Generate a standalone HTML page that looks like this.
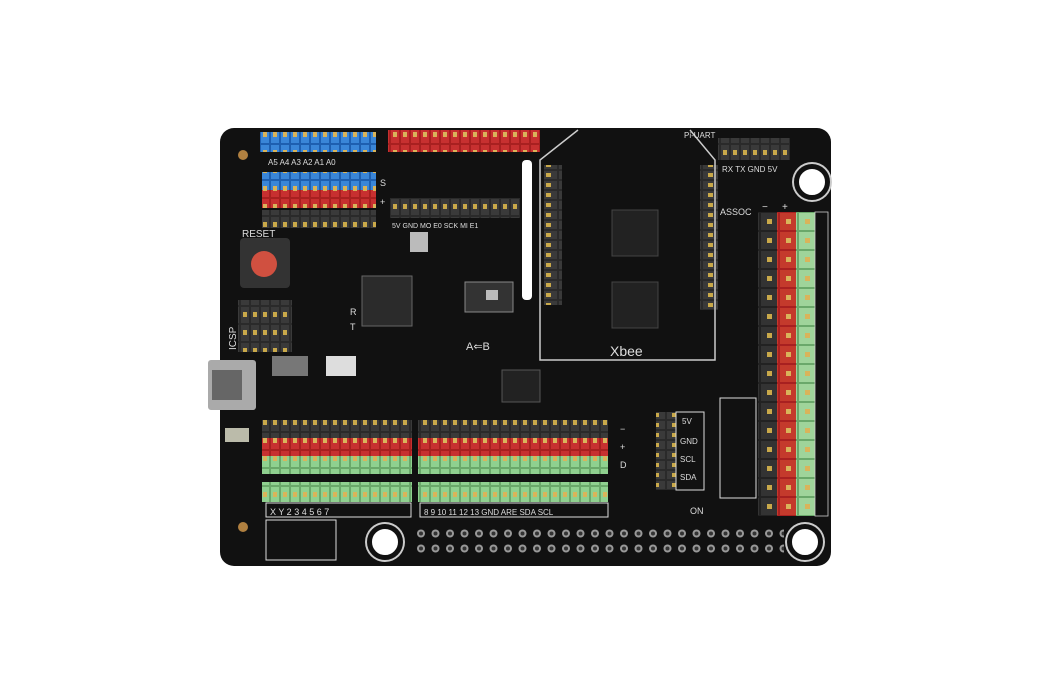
<!DOCTYPE html>
<html><head><style>
body{margin:0;background:#fff;width:1050px;height:700px;overflow:hidden;position:relative;font-family:"Liberation Sans",sans-serif}
.a{position:absolute}
.board{left:220px;top:128px;width:611px;height:438px;background:#111;border-radius:14px}
.hole{position:absolute;width:26px;height:26px;border-radius:50%;background:#fff;border:5px solid #111;box-shadow:0 0 0 2px #ccc}
</style></head><body>
<div class="a board"></div>
<svg class="a" style="left:0;top:0" width="1050" height="700">
<defs>
<pattern id="bk" width="10" height="18" patternUnits="userSpaceOnUse"><rect width="10" height="18" fill="#2a2a2a"/><rect x="1" y="1" width="8" height="16" fill="#3a3a3a"/><rect x="3" y="6" width="4" height="5" fill="#c9a94a"/></pattern>
<pattern id="rd" width="10" height="18" patternUnits="userSpaceOnUse"><rect width="10" height="18" fill="#a82020"/><rect x="1" y="1" width="8" height="16" fill="#c73030"/><rect x="3" y="6" width="4" height="5" fill="#d9b45a"/></pattern>
<pattern id="gr" width="10" height="18" patternUnits="userSpaceOnUse"><rect width="10" height="18" fill="#6aa86a"/><rect x="1" y="1" width="8" height="16" fill="#8fd08f"/><rect x="3" y="6" width="4" height="5" fill="#d9b45a"/></pattern>
<pattern id="bl" width="10" height="18" patternUnits="userSpaceOnUse"><rect width="10" height="18" fill="#1e5fb0"/><rect x="1" y="1" width="8" height="16" fill="#3a86d8"/><rect x="3" y="6" width="4" height="5" fill="#d9b45a"/></pattern>
<pattern id="vbk" x="0" y="212" width="19" height="19" patternUnits="userSpaceOnUse"><rect width="19" height="19" fill="#222"/><rect x="1" y="1" width="17" height="17" fill="#333"/><rect x="7" y="7" width="5" height="5" fill="#c9a94a"/></pattern>
<pattern id="vrd" x="0" y="212" width="19" height="19" patternUnits="userSpaceOnUse"><rect width="19" height="19" fill="#a82020"/><rect x="1" y="1" width="17" height="17" fill="#c43a2c"/><rect x="7" y="7" width="5" height="5" fill="#d9b45a"/></pattern>
<pattern id="vgr" x="0" y="212" width="19" height="19" patternUnits="userSpaceOnUse"><rect width="19" height="19" fill="#6aa86a"/><rect x="1" y="1" width="17" height="17" fill="#9fd49a"/><rect x="7" y="7" width="5" height="5" fill="#d9b45a"/></pattern>
<pattern id="xbk" width="18" height="10" patternUnits="userSpaceOnUse"><rect width="18" height="10" fill="#2a2a2a"/><rect x="1" y="1" width="16" height="8" fill="#3a3a3a"/><rect x="6" y="3" width="5" height="4" fill="#c9a94a"/></pattern>
<pattern id="gp" x="414" y="526" width="14.5" height="15" patternUnits="userSpaceOnUse"><circle cx="7" cy="7.5" r="4" fill="#999"/><circle cx="7" cy="7.5" r="2" fill="#333"/></pattern>
</defs>
<rect x="260" y="132" width="116" height="20" fill="url(#bl)"/>
<rect x="262" y="172" width="114" height="18" fill="url(#bl)"/>
<rect x="262" y="190" width="114" height="18" fill="url(#rd)"/>
<rect x="262" y="210" width="114" height="18" fill="url(#bk)"/>
<rect x="388" y="130" width="152" height="22" fill="url(#rd)"/>
<rect x="390" y="198" width="130" height="20" fill="url(#bk)"/>
<rect x="544" y="165" width="18" height="140" fill="url(#xbk)"/>
<rect x="700" y="165" width="18" height="145" fill="url(#xbk)"/>
<rect x="522" y="160" width="10" height="140" fill="#fff" rx="4"/>
<path d="M578 130 L540 160 L540 360 L715 360 L715 160 L690 130" fill="none" stroke="#ccc" stroke-width="1.5"/>
<rect x="718" y="138" width="72" height="22" fill="url(#bk)"/>
<rect x="758" y="212" width="19" height="304" fill="url(#vbk)"/>
<rect x="777" y="212" width="19" height="304" fill="url(#vrd)"/>
<rect x="796" y="212" width="19" height="304" fill="url(#vgr)"/>
<rect x="815" y="212" width="13" height="304" fill="#111" stroke="#ccc" stroke-width="0.8"/>
<rect x="612" y="210" width="46" height="46" fill="#222" stroke="#444"/>
<rect x="612" y="282" width="46" height="46" fill="#222" stroke="#444"/>
<rect x="362" y="276" width="50" height="50" fill="#2b2b2b" stroke="#666"/>
<rect x="502" y="370" width="38" height="32" fill="#222" stroke="#555"/>
<rect x="465" y="282" width="48" height="30" fill="#333" stroke="#888"/>
<rect x="486" y="290" width="12" height="10" fill="#bbb"/>
<rect x="240" y="238" width="50" height="50" fill="#333" rx="4"/>
<circle cx="264" cy="264" r="13" fill="#d05040"/>
<rect x="238" y="300" width="54" height="52" fill="url(#bk)"/>
<rect x="208" y="360" width="48" height="50" fill="#aaa" rx="3"/>
<rect x="212" y="370" width="30" height="30" fill="#666"/>
<rect x="225" y="428" width="24" height="14" fill="#bba"/>
<rect x="326" y="356" width="30" height="20" fill="#ddd"/>
<rect x="272" y="356" width="36" height="20" fill="#777"/>
<rect x="410" y="232" width="18" height="20" fill="#bbb"/>
<rect x="262" y="420" width="150" height="18" fill="url(#bk)"/>
<rect x="262" y="438" width="150" height="18" fill="url(#rd)"/>
<rect x="262" y="456" width="150" height="18" fill="url(#gr)"/>
<rect x="418" y="420" width="190" height="18" fill="url(#bk)"/>
<rect x="418" y="438" width="190" height="18" fill="url(#rd)"/>
<rect x="418" y="456" width="190" height="18" fill="url(#gr)"/>
<rect x="262" y="482" width="150" height="20" fill="url(#gr)"/>
<rect x="418" y="482" width="190" height="20" fill="url(#gr)"/>
<rect x="266" y="503" width="145" height="14" fill="none" stroke="#ddd"/>
<rect x="420" y="503" width="188" height="14" fill="none" stroke="#ddd"/>
<rect x="656" y="412" width="20" height="78" fill="url(#xbk)"/>
<rect x="676" y="412" width="28" height="78" fill="none" stroke="#ddd"/>
<rect x="720" y="398" width="36" height="100" fill="none" stroke="#ddd"/>
<rect x="414" y="526" width="370" height="30" fill="url(#gp)"/>
<rect x="266" y="520" width="70" height="40" fill="none" stroke="#ddd"/>
<text x="610" y="356" fill="#ddd" font-size="14" font-family="Liberation Sans">Xbee</text>
<text x="242" y="237" fill="#ddd" font-size="10" font-family="Liberation Sans">RESET</text>
<text x="236" y="350" fill="#ddd" font-size="10" font-family="Liberation Sans" transform="rotate(-90 236 350)">ICSP</text>
<text x="466" y="350" fill="#ddd" font-size="11" font-family="Liberation Sans">A⇐B</text>
<text x="684" y="138" fill="#ddd" font-size="8" font-family="Liberation Sans">Pi-UART</text>
<text x="722" y="172" fill="#ddd" font-size="8" font-family="Liberation Sans">RX  TX  GND 5V</text>
<text x="720" y="215" fill="#ddd" font-size="9" font-family="Liberation Sans">ASSOC</text>
<text x="690" y="514" fill="#ddd" font-size="9" font-family="Liberation Sans">ON</text>
<text x="268" y="165" fill="#ddd" font-size="8" font-family="Liberation Sans">A5 A4 A3 A2 A1 A0</text>
<text x="392" y="228" fill="#ddd" font-size="7" font-family="Liberation Sans">5V GND MO E0 SCK MI E1</text>
<text x="270" y="515" fill="#ddd" font-size="9" font-family="Liberation Sans">X  Y  2  3  4  5  6  7</text>
<text x="424" y="515" fill="#ddd" font-size="8" font-family="Liberation Sans">8  9  10 11 12 13 GND ARE SDA SCL</text>
<text x="682" y="424" fill="#ddd" font-size="8" font-family="Liberation Sans">5V</text>
<text x="680" y="444" fill="#ddd" font-size="8" font-family="Liberation Sans">GND</text>
<text x="680" y="462" fill="#ddd" font-size="8" font-family="Liberation Sans">SCL</text>
<text x="680" y="480" fill="#ddd" font-size="8" font-family="Liberation Sans">SDA</text>
<text x="620" y="432" fill="#ddd" font-size="9" font-family="Liberation Sans">−</text>
<text x="620" y="450" fill="#ddd" font-size="9" font-family="Liberation Sans">+</text>
<text x="620" y="468" fill="#ddd" font-size="9" font-family="Liberation Sans">D</text>
<text x="350" y="315" fill="#ddd" font-size="9" font-family="Liberation Sans">R</text>
<text x="350" y="330" fill="#ddd" font-size="9" font-family="Liberation Sans">T</text>
<text x="380" y="186" fill="#ddd" font-size="9" font-family="Liberation Sans">S</text>
<text x="380" y="205" fill="#ddd" font-size="9" font-family="Liberation Sans">+</text>
<text x="762" y="210" fill="#ddd" font-size="10" font-family="Liberation Sans">−</text>
<text x="782" y="210" fill="#ddd" font-size="10" font-family="Liberation Sans">+</text>
</svg>
<div class="hole" style="left:794px;top:164px"></div>
<div class="hole" style="left:367px;top:524px"></div>
<div class="hole" style="left:787px;top:524px"></div>
<div class="a" style="left:238px;top:150px;width:10px;height:10px;border-radius:50%;background:#b08040"></div>
<div class="a" style="left:238px;top:522px;width:10px;height:10px;border-radius:50%;background:#b08040"></div>
</body></html>
